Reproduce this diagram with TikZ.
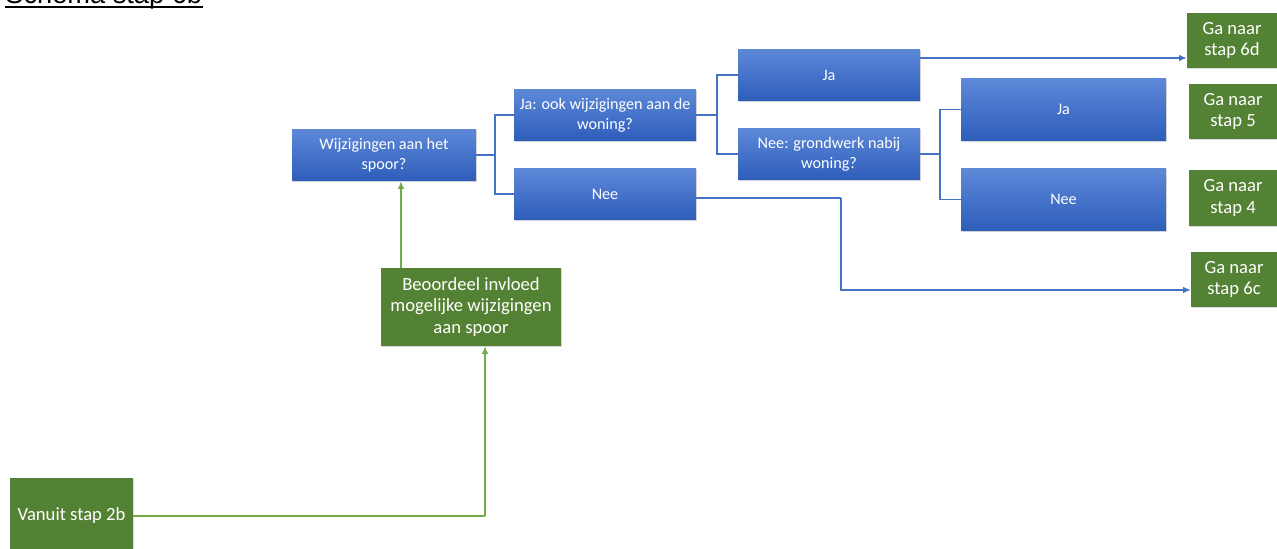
\documentclass[tikz,border=0pt]{standalone}
\usepackage{fontspec}
\setmainfont{Carlito}
\newfontfamily\titlefont{Liberation Sans}
\usetikzlibrary{arrows.meta,shadows}

\definecolor{boxtop}{HTML}{5D89D8}
\definecolor{boxbot}{HTML}{2E5DBB}
\definecolor{stepgreen}{HTML}{548235}
\definecolor{linkblue}{HTML}{4472C4}
\definecolor{linkgreen}{HTML}{70AD47}

\begin{document}
\begin{tikzpicture}[x=0.02cm, y=-0.02cm, >={Latex[length=1.5mm, width=1.3mm]},
  qbox/.style={rectangle, top color=boxtop, bottom color=boxbot, draw=none,
    text=white, align=center, inner sep=1pt, font=\fontsize{9.2}{11.4}\selectfont,
    drop shadow={opacity=0.35, shadow xshift=0.6pt, shadow yshift=-0.8pt}},
  gobox/.style={rectangle, fill=stepgreen, text=white, align=center, inner sep=1pt,
    font=\fontsize{10.6}{12.2}\selectfont,
    drop shadow={opacity=0.3, shadow xshift=0.6pt, shadow yshift=-0.8pt}},
  link/.style={draw=linkblue, line width=0.6pt},
  glink/.style={draw=linkgreen, line width=0.6pt}]
  \useasboundingbox (0,0) rectangle (1277,548);
  \clip (0,0) rectangle (1277,548);
  % title, cut off at the top
  \node[anchor=base west, inner sep=0pt, font=\titlefont\fontsize{15.5}{18}\selectfont] (title) at (5,3) {Schema stap 6b};
  \draw[line width=1.1pt] ([yshift=-2.5pt]title.base west) -- ([yshift=-2.5pt]title.base east);
  % blue questions
  \node[qbox, minimum width=3.68cm, minimum height=1.04cm] (q1) at (384,155) {Wijzigingen aan het\\spoor?};
  \node[qbox, minimum width=3.64cm, minimum height=1.04cm] (q2) at (605,115) {Ja: ook wijzigingen aan de\\woning?};
  \node[qbox, minimum width=3.64cm, minimum height=1.04cm] (n1) at (605,194) {Nee};
  \node[qbox, minimum width=3.64cm, minimum height=1.04cm] (j2) at (829,75) {Ja};
  \node[qbox, minimum width=3.64cm, minimum height=1.04cm] (q3) at (829,154) {Nee: grondwerk nabij\\woning?};
  \node[qbox, minimum width=4.1cm, minimum height=1.26cm] (j3) at (1063.5,109.5) {Ja};
  \node[qbox, minimum width=4.1cm, minimum height=1.26cm] (n3) at (1063.5,199.5) {Nee};
  % green steps
  \node[gobox, minimum width=1.8cm, minimum height=1.1cm] (g6d) at (1232,40.5) {Ga naar\\stap 6d};
  \node[gobox, minimum width=1.76cm, minimum height=1.1cm] (g5) at (1233,111.5) {Ga naar\\stap 5};
  \node[gobox, minimum width=1.76cm, minimum height=1.12cm] (g4) at (1233,198) {Ga naar\\stap 4};
  \node[gobox, minimum width=1.72cm, minimum height=1.1cm] (g6c) at (1234,279.5) {Ga naar\\stap 6c};
  \node[gobox, minimum width=3.6cm, minimum height=1.56cm] (beo) at (471,307) {Beoordeel invloed\\mogelijke wijzigingen\\aan spoor};
  \node[gobox, minimum width=2.46cm, minimum height=1.52cm] (van) at (71.5,516) {Vanuit stap 2b};
  % branches
  \coordinate (b1) at (495,155);
  \coordinate (b2) at (717,115);
  \coordinate (b3) at (940,154);
  \draw[link] (q1.east) -- (b1);
  \draw[link] (b1) |- (q2.west);
  \draw[link] (b1) |- (n1.west);
  \draw[link] (q2.east) -- (b2);
  \draw[link] (b2) |- (j2.west);
  \draw[link] (b2) |- (q3.west);
  \draw[link] (q3.east) -- (b3);
  \draw[link] (b3) |- (j3.west);
  \draw[link] (b3) |- (n3.west);
  \draw[link, ->] (j2.east |- 0,58) -- (g6d.west |- 0,58);
  \coordinate (c1) at (841,198);
  \draw[link] (n1.east |- c1) -- (c1);
  \draw[link, ->] (c1) |- (g6c.west |- 0,290);
  % green flow
  \draw[glink, ->] (beo.north -| 401,0) -- (q1.south -| 401,0);
  \coordinate (c2) at (485,516);
  \draw[glink] (van.east) -- (c2);
  \draw[glink, ->] (c2) -- (beo.south -| c2);
\end{tikzpicture}
\end{document}
